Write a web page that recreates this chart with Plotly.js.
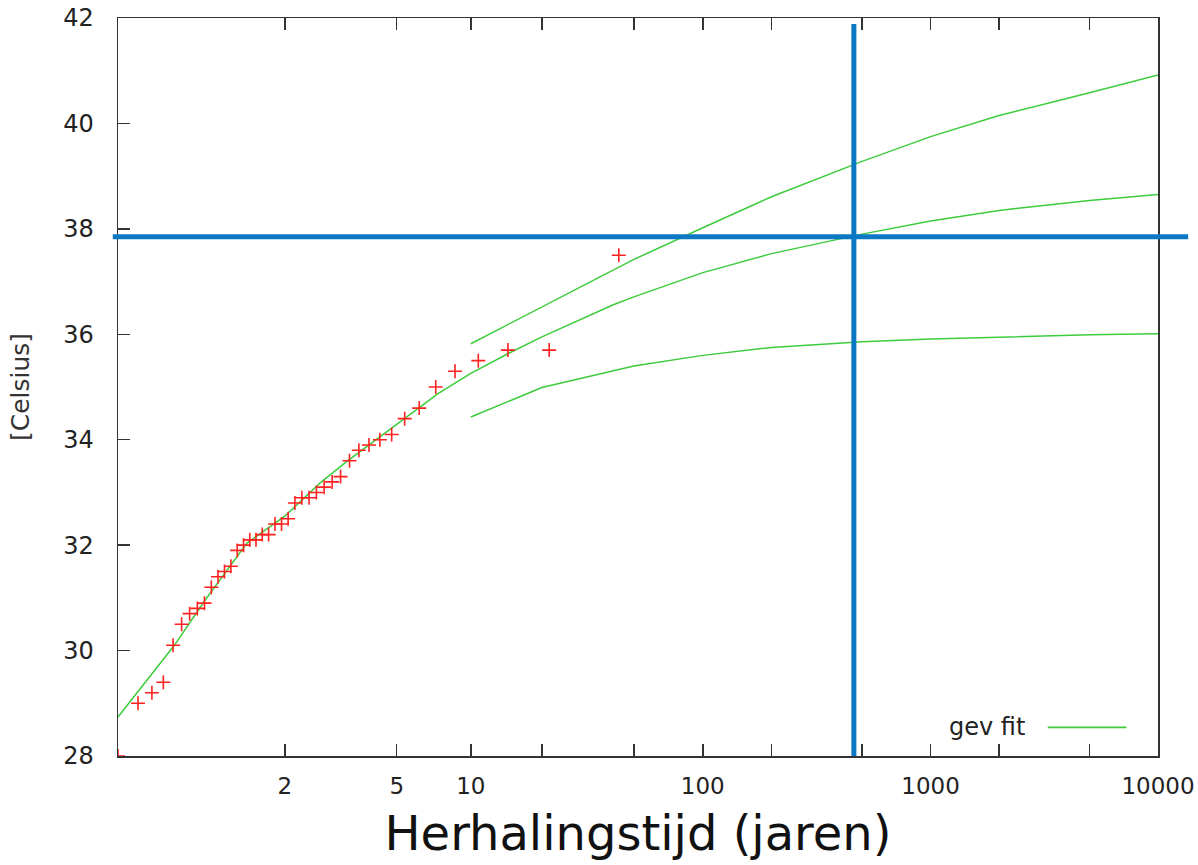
<!DOCTYPE html>
<html><head><meta charset="utf-8">
<script src="https://cdn.plot.ly/plotly-3.0.1.min.js"></script>
<style>html,body{margin:0;padding:0;background:#fff}#chart{width:1198px;height:865px}</style>
</head><body><div id="chart"></div>
<script>
// Observed annual maxima (sorted) and their empirical return periods (years)
const obsReturn = [1.024,1.049,1.075,1.103,1.132,1.162,1.194,1.229,1.265,1.303,1.344,1.387,1.433,1.483,1.536,1.593,1.654,1.72,1.792,1.87,1.955,2.048,2.15,2.263,2.389,2.529,2.688,2.867,3.071,3.308,3.583,3.909,4.3,4.778,5.375,6.143,7.167,8.6,10.75,14.33,21.5,43];
const obsTemp = [28.0,29.0,29.2,29.4,30.1,30.5,30.7,30.8,30.9,31.2,31.4,31.5,31.6,31.9,32.0,32.1,32.1,32.2,32.2,32.4,32.4,32.5,32.8,32.9,32.9,33.0,33.1,33.2,33.3,33.6,33.8,33.9,34.0,34.1,34.4,34.6,35.0,35.3,35.5,35.7,35.7,37.5];

// GEV fit (central)
const fitReturn = [1.024,1.135,1.269,1.567,2,2.605,3.236,4.312,5,7.35,10,14.45,20,29.2,40.7,50,70,100,200,500,1000,2000,5000,10000];
const fitTemp = [28.74,30.09,30.96,32.04,32.55,33.18,33.59,34.06,34.30,34.88,35.26,35.64,35.95,36.28,36.56,36.71,36.93,37.17,37.53,37.90,38.15,38.35,38.54,38.65];

// Confidence bounds
const boundReturn = [10,20,50,100,200,500,1000,2000,5000,10000];
const upperTemp = [35.82,36.52,37.42,38.02,38.61,39.28,39.75,40.15,40.58,40.92];
const lowerTemp = [34.43,34.99,35.40,35.60,35.75,35.86,35.91,35.95,35.99,36.01];

// Axis ticks
const tickReturn = [2,5,10,20,50,100,200,500,1000,2000,5000,10000];
const tickLabels = ['2','5','10','','','100','','','1000','','','10000'];
const yTicks = [28,30,32,34,36,38,40,42];

// Marked threshold and its return period
const markTemp = 37.85;
const markReturn = 460;

const gum = T => -Math.log(-Math.log(1 - 1/T));
const green = '#3ccc3c';

const traces = [
  {x: fitReturn.map(gum), y: fitTemp, mode:'lines', line:{color:green, width:1.5}, name:'gev fit', showlegend:false},
  {x: boundReturn.map(gum), y: upperTemp, mode:'lines', line:{color:green, width:1.5}, showlegend:false},
  {x: boundReturn.map(gum), y: lowerTemp, mode:'lines', line:{color:green, width:1.5}, showlegend:false},
  {x: obsReturn.map(gum), y: obsTemp, mode:'markers', showlegend:false, cliponaxis:true,
   marker:{symbol:'cross-thin', size:10, color:'#ff2020', line:{color:'#ff2020', width:1.6}}}
];

const font = 'DejaVu Sans, Verdana, sans-serif';
const layout = {
  width:1198, height:865,
  margin:{l:118, r:40, t:18, b:109},
  paper_bgcolor:'#fff', plot_bgcolor:'#fff',
  font:{family:font, color:'#222'},
  xaxis:{range:[gum(1.024), gum(10000)], tickmode:'array', tickvals:tickReturn.map(gum), ticktext:tickLabels,
    ticks:'inside', ticklen:12, tickwidth:1.5, tickcolor:'#333', showline:true, linecolor:'#333', linewidth:1.5,
    mirror:'ticks', showgrid:false, zeroline:false, tickfont:{family:font, size:23, color:'#222'},
    ticklabelstandoff:9,
    title:{text:'Herhalingstijd (jaren)', font:{family:font, size:48, color:'#111'}, standoff:18}},
  yaxis:{range:[28,42], tickmode:'array', tickvals:yTicks, ticktext:yTicks.map(String),
    ticks:'inside', ticklen:12, tickwidth:1.5, tickcolor:'#333', showline:true, linecolor:'#333', linewidth:1.5,
    mirror:true, showgrid:false, zeroline:false, tickfont:{family:font, size:24, color:'#222'},
    ticklabelstandoff:18,
    title:{text:'[Celsius]', font:{family:font, size:25, color:'#333'}, standoff:26}},
  shapes:[
    {type:'line', xref:'paper', yref:'y', x0:-0.005, x1:1.029, y0:markTemp, y1:markTemp, line:{color:'#0a78c2', width:5}},
    {type:'line', xref:'x', yref:'paper', x0:gum(markReturn), x1:gum(markReturn), y0:0, y1:0.992, line:{color:'#0a78c2', width:5}},
    {type:'line', xref:'paper', yref:'paper', x0:0.894, x1:0.9696, y0:0.0387, y1:0.0387, line:{color:green, width:1.8}}
  ],
  annotations:[
    {text:'gev fit', xref:'paper', yref:'paper', x:0.8738, y:0.0393, xanchor:'right', yanchor:'middle', showarrow:false,
     font:{family:font, size:24, color:'#222'}}
  ]
};
Plotly.newPlot('chart', traces, layout, {displayModeBar:false, staticPlot:true});
</script>
</body></html>
